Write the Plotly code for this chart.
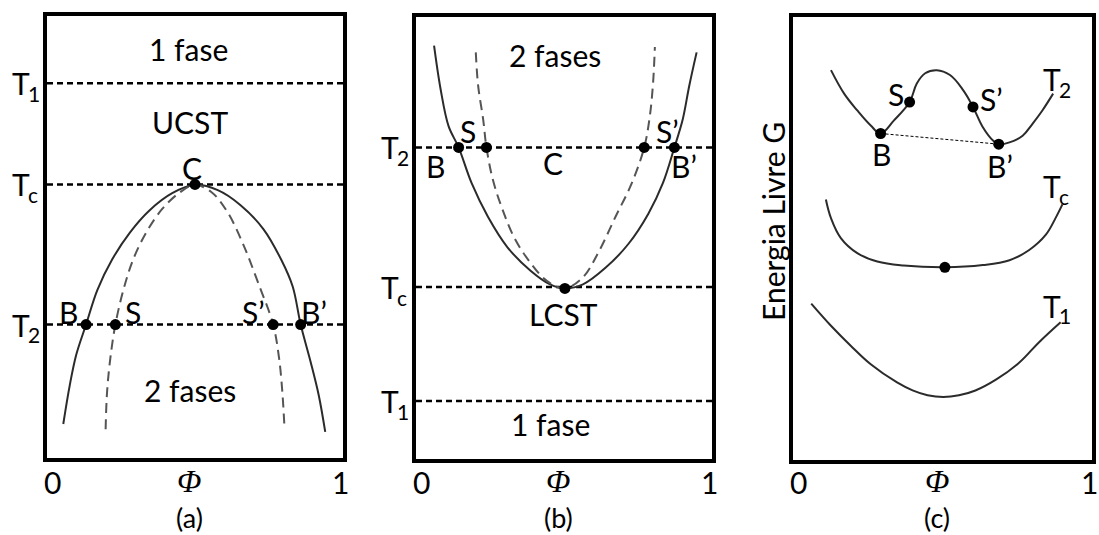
import plotly.graph_objects as go

# ---------------- Panel (a): UCST ----------------
a_level_subs = ["1", "c", "2"]
a_level_values = [0.848, 0.619, 0.302]

a_bin_x = [0.055, 0.077, 0.099, 0.132, 0.170, 0.220, 0.280, 0.346, 0.423, 0.500,
           0.577, 0.654, 0.731, 0.791, 0.830, 0.857, 0.890, 0.918, 0.940]
a_bin_y = [0.077, 0.165, 0.234, 0.302, 0.380, 0.449, 0.510, 0.560, 0.599, 0.618,
           0.606, 0.572, 0.518, 0.449, 0.388, 0.302, 0.219, 0.142, 0.059]
a_spin_x = [0.198, 0.203, 0.214, 0.231, 0.258, 0.291, 0.335, 0.390, 0.451, 0.500,
            0.555, 0.610, 0.665, 0.714, 0.764, 0.784, 0.795, 0.802]
a_spin_y = [0.065, 0.150, 0.226, 0.302, 0.380, 0.449, 0.510, 0.564, 0.602, 0.618,
            0.602, 0.556, 0.480, 0.395, 0.302, 0.226, 0.150, 0.073]
a_pts_x = [0.132, 0.231, 0.764, 0.857, 0.500]
a_pts_y = [0.302, 0.302, 0.302, 0.302, 0.619]
a_text = ["1 fase", "UCST", "C", "B", "S", "S’", "B’", "2 fases"]
a_text_x = [0.478, 0.484, 0.491, 0.071, 0.291, 0.698, 0.901, 0.484]
a_text_y = [0.925, 0.760, 0.656, 0.330, 0.330, 0.330, 0.330, 0.153]

# ---------------- Panel (b): LCST ----------------
b_level_subs = ["2", "c", "1"]
b_level_values = [0.705, 0.389, 0.131]

b_bin_x = [0.061, 0.083, 0.110, 0.144, 0.188, 0.243, 0.309, 0.387, 0.453, 0.503,
           0.564, 0.641, 0.718, 0.785, 0.834, 0.873, 0.901, 0.923, 0.948]
b_bin_y = [0.935, 0.837, 0.753, 0.705, 0.624, 0.548, 0.479, 0.426, 0.395, 0.386,
           0.395, 0.433, 0.487, 0.555, 0.624, 0.705, 0.768, 0.844, 0.920]
b_spin_x = [0.202, 0.210, 0.227, 0.238, 0.260, 0.293, 0.331, 0.381, 0.442, 0.503,
            0.564, 0.619, 0.674, 0.729, 0.771, 0.790, 0.801, 0.807]
b_spin_y = [0.920, 0.844, 0.768, 0.705, 0.631, 0.563, 0.502, 0.449, 0.403, 0.386,
            0.411, 0.471, 0.548, 0.624, 0.705, 0.776, 0.852, 0.932]
b_pts_x = [0.144, 0.238, 0.771, 0.873, 0.503]
b_pts_y = [0.705, 0.705, 0.705, 0.705, 0.386]
b_text = ["2 fases", "S", "S’", "B", "C", "B’", "LCST", "1 fase"]
b_text_x = [0.470, 0.177, 0.851, 0.066, 0.462, 0.904, 0.497, 0.453]
b_text_y = [0.913, 0.741, 0.741, 0.662, 0.669, 0.662, 0.327, 0.080]

# ---------------- Panel (c): free energy ----------------
c_t2_x = [0.127, 0.171, 0.215, 0.260, 0.293, 0.337, 0.390, 0.414, 0.442, 0.481, 0.525,
          0.569, 0.602, 0.635, 0.669, 0.688, 0.724, 0.768, 0.801, 0.834, 0.870]
c_t2_y = [0.880, 0.827, 0.789, 0.755, 0.737, 0.766, 0.808, 0.850, 0.873, 0.880, 0.869,
          0.835, 0.797, 0.751, 0.721, 0.713, 0.717, 0.732, 0.759, 0.789, 0.827]
c_tc_x = [0.110, 0.127, 0.160, 0.215, 0.282, 0.370, 0.508, 0.635, 0.724, 0.790, 0.845, 0.878, 0.901]
c_tc_y = [0.588, 0.546, 0.501, 0.467, 0.448, 0.439, 0.435, 0.440, 0.451, 0.474, 0.508, 0.546, 0.577]
c_t1_x = [0.061, 0.127, 0.193, 0.260, 0.348, 0.400, 0.450, 0.503, 0.555, 0.610,
          0.680, 0.757, 0.823, 0.895]
c_t1_y = [0.353, 0.303, 0.258, 0.216, 0.175, 0.157, 0.146, 0.142, 0.146, 0.157,
          0.182, 0.220, 0.266, 0.311]
c_pts_x = [0.293, 0.390, 0.602, 0.688, 0.508]
c_pts_y = [0.737, 0.808, 0.797, 0.713, 0.435]
c_tie_x = [0.293, 0.688]
c_tie_y = [0.737, 0.713]
c_text = ["S", "S’", "B", "B’"]
c_text_x = [0.343, 0.663, 0.295, 0.691]
c_text_y = [0.827, 0.816, 0.690, 0.664]
c_curve_subs = ["2", "c", "1"]
c_curve_label_x = [0.878, 0.878, 0.878]
c_curve_label_y = [0.860, 0.618, 0.348]
c_ytitle = "Energia Livre G"

x_tick_text = ["0", "Φ", "1"]
x_tick_pos = [0.02, 0.48, 0.99]
panel_names = ["(a)", "(b)", "(c)"]

W, H = 1099, 535
FONT = "Lato"
FS = 30
SUBFS = 21
BLACK = "black"
SOLID = "#2b2b2b"
DASHC = "#555555"


def px_dom(x0, x1):
    return [x0 / W, x1 / W]


def py_dom(top, bottom):
    return [1 - bottom / H, 1 - top / H]


def ann(text, x, y, xref, yref, size=FS, family=FONT, angle=0, xanchor="center",
        xshift=0, yshift=0, style="normal"):
    return dict(text=text, x=x, y=y, xref=xref, yref=yref, showarrow=False,
                xanchor=xanchor, yanchor="middle", textangle=angle,
                xshift=xshift, yshift=yshift,
                font=dict(family=family, size=size, color=BLACK, style=style))


fig = go.Figure()

panels = [
    dict(ax="", levels=a_level_values, subs=a_level_subs, bx=a_bin_x, by=a_bin_y,
         sx=a_spin_x, sy=a_spin_y, px=a_pts_x, py=a_pts_y,
         tt=a_text, tx=a_text_x, ty=a_text_y),
    dict(ax="2", levels=b_level_values, subs=b_level_subs, bx=b_bin_x, by=b_bin_y,
         sx=b_spin_x, sy=b_spin_y, px=b_pts_x, py=b_pts_y,
         tt=b_text, tx=b_text_x, ty=b_text_y),
]

annotations = []

for p in panels:
    xa, ya = "x" + p["ax"], "y" + p["ax"]
    for lv, sub in zip(p["levels"], p["subs"]):
        fig.add_trace(go.Scatter(x=[0, 1], y=[lv, lv], mode="lines", xaxis=xa, yaxis=ya,
                                 line=dict(color=BLACK, width=2.5, dash="6px,4px"),
                                 showlegend=False, hoverinfo="skip"))
        annotations.append(ann("T", 0, lv, xa + " domain", ya, xanchor="right", xshift=-15))
        annotations.append(ann(sub, 0, lv, xa + " domain", ya, size=SUBFS, xanchor="left",
                               xshift=-21, yshift=-10))
    fig.add_trace(go.Scatter(x=p["bx"], y=p["by"], mode="lines", xaxis=xa, yaxis=ya,
                             line=dict(color=SOLID, width=2, shape="spline"),
                             showlegend=False))
    fig.add_trace(go.Scatter(x=p["sx"], y=p["sy"], mode="lines", xaxis=xa, yaxis=ya,
                             line=dict(color=DASHC, width=2, shape="spline", dash="10px,6px"),
                             showlegend=False))
    fig.add_trace(go.Scatter(x=p["px"], y=p["py"], mode="markers", xaxis=xa, yaxis=ya,
                             marker=dict(color=BLACK, size=11), showlegend=False))
    for t, x, y in zip(p["tt"], p["tx"], p["ty"]):
        annotations.append(ann(t, x, y, xa, ya))

# panel c
fig.add_trace(go.Scatter(x=c_tie_x, y=c_tie_y, mode="lines", xaxis="x3", yaxis="y3",
                         line=dict(color=BLACK, width=1, dash="3px,2px"), showlegend=False))
for cx, cy in [(c_t2_x, c_t2_y), (c_tc_x, c_tc_y), (c_t1_x, c_t1_y)]:
    fig.add_trace(go.Scatter(x=cx, y=cy, mode="lines", xaxis="x3", yaxis="y3",
                             line=dict(color=SOLID, width=2, shape="spline", smoothing=1.1),
                             showlegend=False))
fig.add_trace(go.Scatter(x=c_pts_x, y=c_pts_y, mode="markers", xaxis="x3", yaxis="y3",
                         marker=dict(color=BLACK, size=11), showlegend=False))
for t, x, y in zip(c_text, c_text_x, c_text_y):
    annotations.append(ann(t, x, y, "x3", "y3"))
for sub, x, y in zip(c_curve_subs, c_curve_label_x, c_curve_label_y):
    annotations.append(ann("T", x, y, "x3", "y3", xanchor="right", xshift=7))
    annotations.append(ann(sub, x, y, "x3", "y3", size=SUBFS, xanchor="left", xshift=1, yshift=-10))
annotations.append(ann(c_ytitle, 773 / W, 1 - 222 / H, "paper", "paper", angle=-90))

# x labels below each panel
for k, ax in enumerate(["x", "x2", "x3"]):
    for t, x in zip(x_tick_text, x_tick_pos):
        if t == "Φ":
            annotations.append(ann(t, x, 1 - 481 / H, ax, "paper", size=32,
                                   family="Liberation Serif", style="italic"))
        else:
            annotations.append(ann(t, x, 1 - 482 / H, ax, "paper"))
    annotations.append(ann(panel_names[k], 0.48, 1 - 517 / H, ax, "paper", size=27))

axis_common = dict(range=[0, 1], showgrid=False, zeroline=False, showline=True, mirror=True,
                   linewidth=4, linecolor=BLACK, fixedrange=True, showticklabels=False, ticks="")

layout = dict(
    width=W, height=H, margin=dict(l=0, r=0, t=0, b=0),
    paper_bgcolor="white", plot_bgcolor="white",
    annotations=annotations, showlegend=False,
)
layout["xaxis"] = dict(domain=px_dom(47, 343), anchor="y", **axis_common)
layout["yaxis"] = dict(domain=py_dom(16, 458), anchor="x", **axis_common)
layout["xaxis2"] = dict(domain=px_dom(416, 712), anchor="y2", **axis_common)
layout["yaxis2"] = dict(domain=py_dom(17, 459), anchor="x2", **axis_common)
layout["xaxis3"] = dict(domain=px_dom(793, 1092), anchor="y3", **axis_common)
layout["yaxis3"] = dict(domain=py_dom(17, 460), anchor="x3", **axis_common)

fig.update_layout(**layout)
fig.write_html("out.html")
